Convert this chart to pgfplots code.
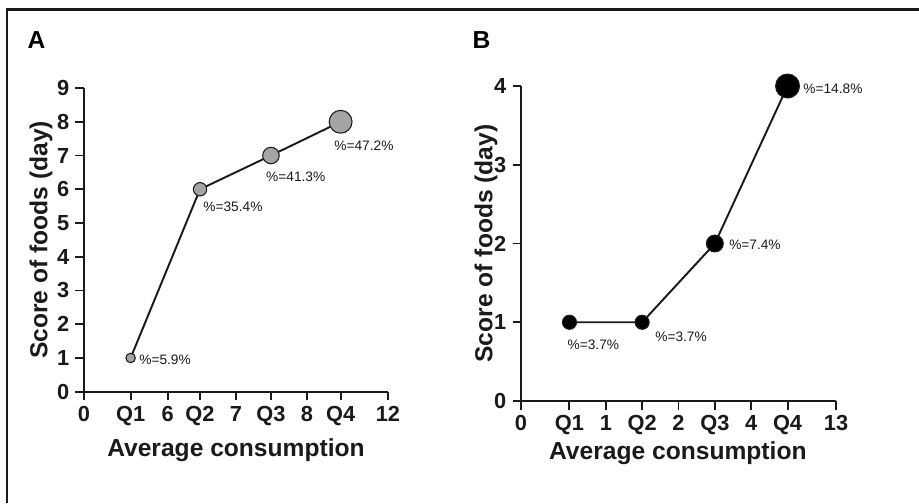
\documentclass[border=0pt]{standalone}
\usepackage{fontspec}
\setmainfont{Liberation Sans}
\usepackage{pgfplots}
\pgfplotsset{compat=1.18}
\usepackage{pgfplotstable}

\definecolor{ink}{HTML}{1A1A1A}
\definecolor{dotgray}{HTML}{A4A4A6}

% x positions follow the odd tick spacing of the original figure
\pgfplotstableread{
x y r
1.84 1 2.7
4.58 6 3.8
7.38 7 4.7
10.13 8 6.5
}\scoreA

\pgfplotstableread{
x y r
2 1 4.0
5 1 4.0
8 2 4.8
11 4 6.8
}\scoreB

\tikzset{pct/.style={font=\fontsize{7.8}{9}\selectfont, text=ink, anchor=west, inner sep=0pt}}

\pgfplotsset{
  panel/.style={
    scale only axis, axis lines=left,
    axis line style={-, line width=1.1pt, draw=ink},
    tick align=outside, major tick length=0.17cm,
    tick style={line width=1.1pt, draw=ink},
    enlargelimits=false, clip=false,
    /pgf/number format/assume math mode=true,
    ticklabel style={font=\bfseries\fontsize{12.4}{14}\selectfont, text=ink},
    label style={font=\bfseries\fontsize{14}{16}\selectfont, text=ink},
  },
  sized/.style={
    line width=1.1pt, draw=ink, mark=*,
    scatter, point meta=explicit,
    scatter/use mapped color={draw=ink, fill=#1, line width=0.6pt},
    visualization depends on={\thisrow{r} \as \msize},
    scatter/@pre marker code/.append style={/tikz/mark size=\msize},
  },
}

\begin{document}
\begin{tikzpicture}
\path[use as bounding box] (0,0) rectangle (18.38,-10.06);
\draw[line width=0.05cm, ink] (0.14,-10.06) -- (0.14,-0.19) -- (18.38,-0.19);
\node[font=\bfseries\fontsize{14}{16}\selectfont] at (0.73,-0.81) {A};
\node[font=\bfseries\fontsize{14}{16}\selectfont] at (9.63,-0.81) {B};

\begin{axis}[panel,
  at={(1.68cm,-7.834cm)}, anchor=south west,
  width=6.08cm, height=6.074cm,
  xmin=0, xmax=12, ymin=0, ymax=9,
  xtick={0,1.84,3.30,4.58,6.0,7.38,8.80,10.13,12},
  xticklabels={0,Q1,6,Q2,7,Q3,8,Q4,12},
  ytick={0,1,...,9},
  xlabel={Average consumption}, ylabel={Score of foods (day)},
  xlabel style={at={(axis description cs:0.5,-0.192)}, anchor=center},
  ylabel style={at={(axis description cs:-0.141,0.5)}, anchor=center, rotate=0},
]
\addplot[sized=dotgray] table[x=x, y=y, meta=r] {\scoreA};
\node[pct] at (axis cs:2.17,0.94) {\%=5.9\%};
\node[pct] at (axis cs:4.70,5.48) {\%=35.4\%};
\node[pct] at (axis cs:7.18,6.37) {\%=41.3\%};
\node[pct] at (axis cs:9.87,7.29) {\%=47.2\%};
\end{axis}

\begin{axis}[panel,
  at={(10.42cm,-8.02cm)}, anchor=south west,
  width=6.30cm, height=6.30cm,
  xmin=0, xmax=13, ymin=0, ymax=4,
  xtick={0,2,3.5,5,6.5,8,9.5,11,13},
  xticklabels={0,Q1,1,Q2,2,Q3,4,Q4,13},
  ytick={0,1,...,4},
  xlabel={Average consumption}, ylabel={Score of foods (day)},
  xlabel style={at={(axis description cs:0.498,-0.165)}, anchor=center},
  ylabel style={at={(axis description cs:-0.111,0.5)}, anchor=center, rotate=0},
]
\addplot[sized=black] table[x=x, y=y, meta=r] {\scoreB};
\node[pct] at (axis cs:1.91,0.72) {\%=3.7\%};
\node[pct] at (axis cs:5.53,0.81) {\%=3.7\%};
\node[pct] at (axis cs:8.58,1.99) {\%=7.4\%};
\node[pct] at (axis cs:11.64,3.97) {\%=14.8\%};
\end{axis}
\end{tikzpicture}
\end{document}
